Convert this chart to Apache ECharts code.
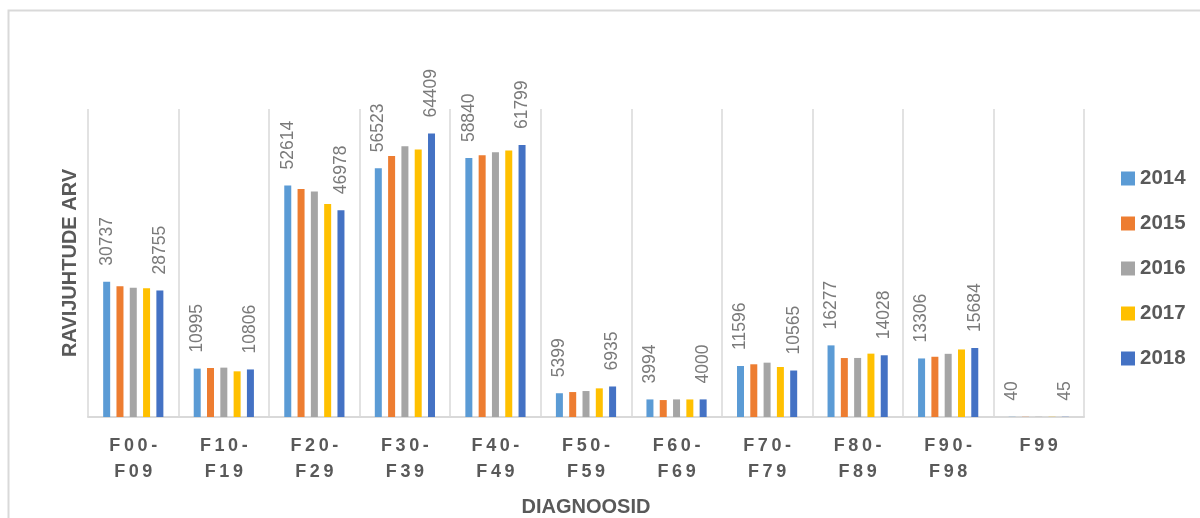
<!DOCTYPE html>
<html>
<head>
<meta charset="utf-8">
<script src="https://cdn.jsdelivr.net/npm/echarts@6/dist/echarts.min.js"></script>
<style>
  html, body { margin: 0; padding: 0; background: #fff; }
  #chart { width: 1200px; height: 518px; }
</style>
</head>
<body>
<div id="chart"></div>
<script>
// diagnoosigrupid
var categories = ['F00-F09', 'F10-F19', 'F20-F29', 'F30-F39', 'F40-F49', 'F50-F59',
                  'F60-F69', 'F70-F79', 'F80-F89', 'F90-F98', 'F99'];
var years = ['2014', '2015', '2016', '2017', '2018'];

var v2014 = [30737, 10995, 52614, 56523, 58840, 5399, 3994, 11596, 16277, 13306, 40];
var v2015 = [29700, 11140, 51790, 59300, 59510, 5670, 3850, 11980, 13400, 13690, 42];
var v2016 = [29400, 11220, 51250, 61550, 60170, 5900, 4000, 12350, 13420, 14360, 43];
var v2017 = [29250, 10380, 48390, 60800, 60540, 6510, 3990, 11370, 14400, 15350, 44];
var v2018 = [28755, 10806, 46978, 64409, 61799, 6935, 4000, 10565, 14028, 15684, 45];

var colors = ['#5B9BD5', '#ED7D31', '#A5A5A5', '#FFC000', '#4472C4'];
var TEXT = '#595959';

// ainult 2014 ja 2018 saavad sildid
function makeSeries(name, data, withLabel) {
    return {
        name: name,
        type: 'bar',
        data: data,
        barWidth: 7,
        barGap: '90%',
        label: {
            show: withLabel,
            position: 'top',
            rotate: 90,
            align: 'left',
            verticalAlign: 'middle',
            distance: 16,
            color: '#7a7a7a',
            fontFamily: 'Liberation Sans',
            fontSize: 17.5
        }
    };
}

function spaced(s) {
    return s.split('').join('\u2009');
}

var chart = echarts.init(document.getElementById('chart'));
chart.setOption({
    animation: false,
    color: colors,
    textStyle: { fontFamily: 'Liberation Sans' },
    graphic: [{
        type: 'rect',
        shape: { x: 8.5, y: 10.5, width: 1400, height: 700 },
        style: { fill: null, stroke: '#d9d9d9', lineWidth: 2 },
        silent: true
    }],
    grid: { left: 88, right: 116, top: 109, bottom: 101, outerBoundsMode: 'none', containLabel: false },
    legend: {
        orient: 'vertical',
        left: 1116,
        top: 163,
        itemWidth: 14,
        itemHeight: 14,
        itemGap: 24,
        icon: 'rect',
        textStyle: { color: TEXT, fontSize: 20.5, fontWeight: 'bold', lineHeight: 20 },
        data: years
    },
    xAxis: {
        type: 'category',
        data: categories,
        name: 'DIAGNOOSID',
        nameLocation: 'middle',
        nameGap: 80,
        nameTextStyle: { color: TEXT, fontSize: 20, fontWeight: 'bold' },
        axisLine: { lineStyle: { color: '#d9d9d9', width: 2 } },
        axisTick: { show: false },
        splitLine: { show: true, lineStyle: { color: '#d9d9d9', width: 1.5 } },
        axisLabel: {
            interval: 0,
            margin: 16,
            color: TEXT,
            fontSize: 18,
            fontWeight: 'bold',
            lineHeight: 26,
            formatter: function (v) {
                var i = v.indexOf('-');
                if (i < 0) return spaced(v);
                return spaced(v.slice(0, i + 1)) + '\n' + spaced(v.slice(i + 1));
            }
        }
    },
    yAxis: {
        type: 'value',
        min: 0,
        max: 70000,
        name: 'RAVIJUHTUDE ARV',
        nameLocation: 'middle',
        nameGap: 8,
        nameTextStyle: { color: TEXT, fontSize: 20, fontWeight: 'bold' },
        axisLine: { show: false },
        axisTick: { show: false },
        axisLabel: { show: false },
        splitLine: { show: false }
    },
    series: [
        makeSeries('2014', v2014, true),
        makeSeries('2015', v2015, false),
        makeSeries('2016', v2016, false),
        makeSeries('2017', v2017, false),
        makeSeries('2018', v2018, true)
    ]
});
</script>
</body>
</html>
